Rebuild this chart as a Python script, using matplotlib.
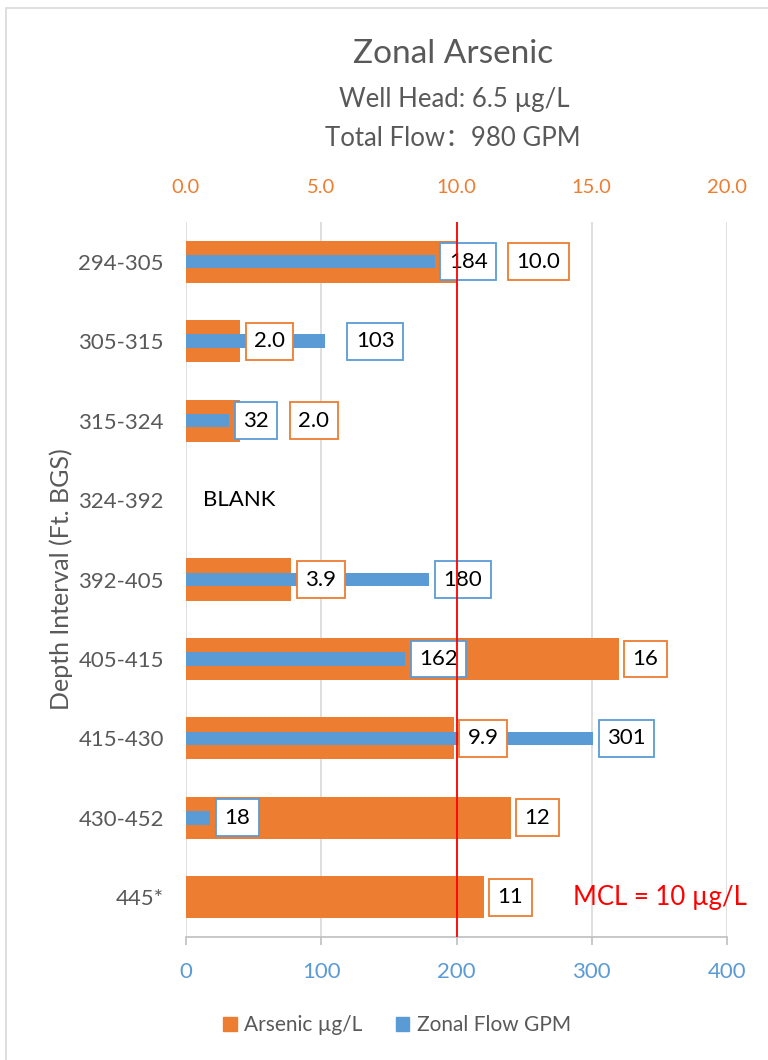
import numpy as np
import matplotlib
matplotlib.use('Agg')
import matplotlib.pyplot as plt
import matplotlib.transforms as mtransforms
from matplotlib.patches import Rectangle, Patch

plt.rcParams['font.family'] = ['Lato', 'Noto Sans CJK SC', 'DejaVu Sans']

# Dados
intervalos = ['294-305', '305-315', '315-324', '324-392', '392-405',
              '405-415', '415-430', '430-452', '445*']
arsenico = [10.0, 2.0, 2.0, np.nan, 3.9, 16, 9.9, 12, 11]
arsenico_txt = ['10.0', '2.0', '2.0', '', '3.9', '16', '9.9', '12', '11']
caudal = [184, 103, 32, np.nan, 180, 162, 301, 18, np.nan]
caudal_txt = ['184', '103', '32', '', '180', '162', '301', '18', '']
ticks_arsenico = [0, 5, 10, 15, 20]
ticks_caudal = [0, 100, 200, 300, 400]
mcl = 10

# Cores
laranja = '#ED7D31'
azul = '#5B9BD5'
cinza = '#595959'
grelha = '#D9D9D9'

# deslocamentos manuais das etiquetas (pontos), como no Excel
desloc_ars = {0: 33, 2: 32}
desloc_cau = {1: 12}

fig = plt.figure(figsize=(7.68, 10.6), dpi=100)
fig.patches.append(Rectangle((6/768, -0.05), 1.2, 1.05 - 8/1060, transform=fig.transFigure,
                             fill=False, edgecolor='#D9D9D9', lw=1.2))

ax = fig.add_axes([186/768, 123/1060, 541/768, 715/1060])
ax2 = ax.twiny()

y = np.arange(len(intervalos))

# Arsénio (eixo de cima) atrás, caudal (eixo de baixo) à frente
ax.barh(y, arsenico, height=0.53, color=laranja, zorder=2)
ax2.barh(y, caudal, height=0.17, color=azul, zorder=2)

ax.set_xlim(0, 20)
ax2.set_xlim(0, 400)
ax.set_ylim(len(intervalos) - 0.5, -0.5)

ax.xaxis.tick_top()
ax.set_xticks(ticks_arsenico)
ax.set_xticklabels(['%.1f' % t for t in ticks_arsenico], color=laranja, fontsize=14.5)
ax.tick_params(axis='x', length=0, pad=19)
ax.grid(axis='x', color=grelha, lw=1.2, zorder=0)

ax2.xaxis.tick_bottom()
ax2.set_xticks(ticks_caudal)
ax2.set_xticklabels([str(t) for t in ticks_caudal], color=azul, fontsize=16)
ax2.tick_params(axis='x', length=6, color='#BFBFBF', width=1.2, pad=12)

ax.set_yticks(y)
ax.set_yticklabels(intervalos, color=cinza, fontsize=16)
ax.tick_params(axis='y', length=0, pad=16)
ax.set_ylabel('Depth Interval (Ft. BGS)', color=cinza, fontsize=18)
ax.yaxis.set_label_coords(-0.209, 0.5)

for a in (ax, ax2):
    for s in a.spines.values():
        s.set_visible(False)
    a.patch.set_visible(False)
ax2.spines['bottom'].set_visible(True)
ax2.spines['bottom'].set_color('#BFBFBF')
ax2.spines['bottom'].set_linewidth(1.2)

caixa = dict(boxstyle='square,pad=0.38', facecolor='white', lw=1.3)

for i in range(len(intervalos)):
    if not np.isnan(arsenico[i]):
        ax2.annotate(arsenico_txt[i], xy=(arsenico[i], y[i]), xycoords=ax.transData,
                     xytext=(10 + desloc_ars.get(i, 0), 0), textcoords='offset points',
                     ha='left', va='center', fontsize=16, color='black',
                     bbox=dict(caixa, edgecolor=laranja), zorder=4)
    if not np.isnan(caudal[i]):
        ax2.annotate(caudal_txt[i], xy=(caudal[i], y[i]),
                     xytext=(10 + desloc_cau.get(i, 0), 0), textcoords='offset points',
                     ha='left', va='center', fontsize=16, color='black',
                     bbox=dict(caixa, edgecolor=azul), zorder=4)

# linha do MCL
trans = mtransforms.blended_transform_factory(ax.transData, ax2.transAxes)
ax2.plot([mcl, mcl], [0, 1], transform=trans, color='#FF0000', lw=1.3, zorder=6)

misto = mtransforms.blended_transform_factory(ax2.transAxes, ax2.transData)
ax2.text(0.031, 3, 'BLANK', transform=misto, ha='left', va='center', fontsize=16, color='black')
ax2.text(0.715, 8, 'MCL = 10 µg/L', transform=misto, ha='left', va='center',
         fontsize=18.5, color='#FF0000')

# Títulos
fig.text(0.59, 1 - 54/1060, 'Zonal Arsenic', ha='center', va='center', fontsize=24, color=cinza)
fig.text(0.592, 1 - 99/1060, 'Well Head: 6.5 µg/L', ha='center', va='center', fontsize=18.5, color=cinza)
fig.text(0.59, 1 - 138/1060, 'Total Flow：980 GPM', ha='center', va='center', fontsize=18.5, color=cinza)

handles = [Patch(color=laranja, label='Arsenic µg/L'), Patch(color=azul, label='Zonal Flow GPM')]
fig.legend(handles=handles, loc='center', bbox_to_anchor=(0.517, 1 - 1025/1060), ncol=2,
           frameon=False, fontsize=15, labelcolor=cinza, handlelength=0.65, handleheight=0.65,
           handletextpad=0.35, columnspacing=1.6)

plt.savefig('out.png', dpi=100)
